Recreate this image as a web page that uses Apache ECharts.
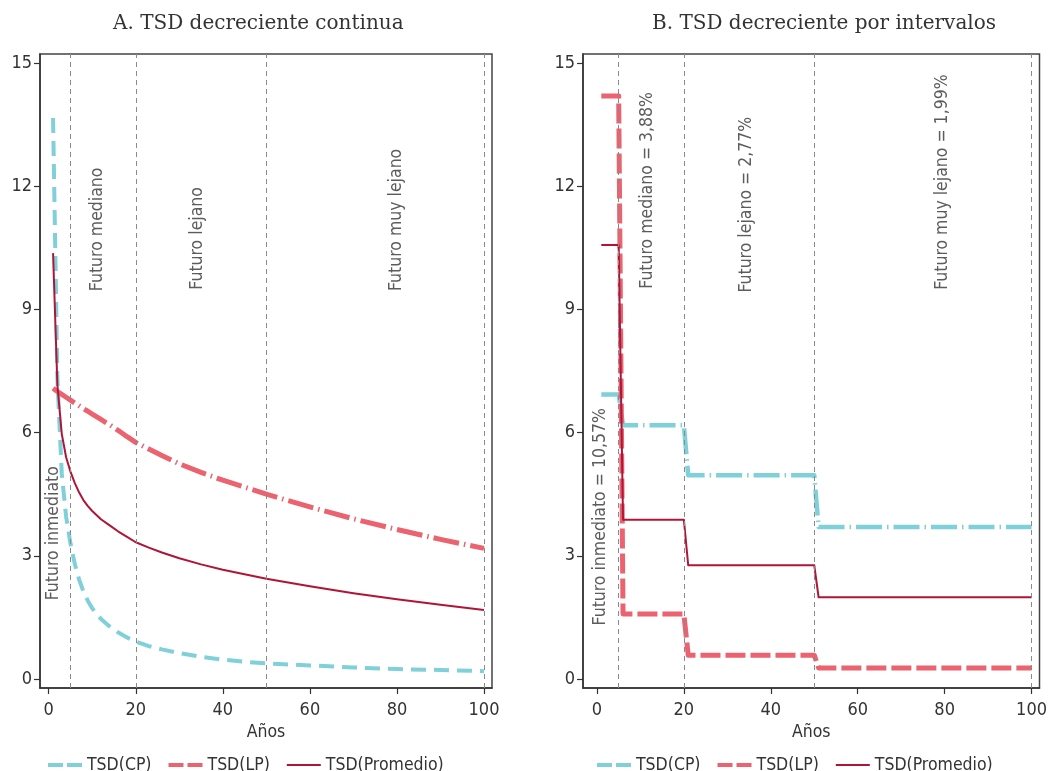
<!DOCTYPE html>
<html>
<head>
<meta charset="utf-8">
<script src="https://cdn.jsdelivr.net/npm/echarts@6/dist/echarts.min.js"></script>
<style>
html,body{margin:0;padding:0;background:#fff;}
#main{width:1050px;height:771px;}
</style>
</head>
<body>
<div id="main"></div>
<script>
// ---------- Data ----------
const titleA = 'A. TSD decreciente continua';
const titleB = 'B. TSD decreciente por intervalos';
const seriesNames = ['TSD(CP)', 'TSD(LP)', 'TSD(Promedio)'];
const xTicks = [0, 20, 40, 60, 80, 100];
const yTicks = [0, 3, 6, 9, 12, 15];
const horizonLines = [5, 20, 50, 100];

// Panel A: continuous declining rates
const yearsA = [1, 2, 3, 4, 5, 6, 7, 8, 9, 10, 12, 14, 16, 18, 20, 23, 26, 30, 35, 40, 45, 50, 60, 70, 80, 90, 100];
const cpA    = [13.66, 7.3, 5.0, 3.95, 3.3, 2.8, 2.42, 2.12, 1.9, 1.72, 1.46, 1.28, 1.13, 1.01, 0.91, 0.8, 0.72, 0.63, 0.54, 0.47, 0.42, 0.38, 0.33, 0.28, 0.24, 0.22, 0.19];
const lpA    = [7.08, 7.0, 6.93, 6.86, 6.79, 6.72, 6.65, 6.58, 6.52, 6.45, 6.32, 6.19, 6.05, 5.9, 5.76, 5.6, 5.44, 5.24, 5.03, 4.84, 4.67, 4.5, 4.19, 3.9, 3.64, 3.4, 3.18];
const promA  = [10.37, 7.15, 5.97, 5.4, 5.05, 4.77, 4.54, 4.35, 4.21, 4.09, 3.89, 3.74, 3.59, 3.46, 3.33, 3.2, 3.08, 2.94, 2.79, 2.66, 2.55, 2.44, 2.26, 2.09, 1.94, 1.81, 1.68];

// Panel B: step-wise rates by horizon
const yearsB = [1, 5, 6, 20, 21, 50, 51, 100];
const cpB    = [6.93, 6.93, 6.18, 6.18, 4.96, 4.96, 3.70, 3.70];
const lpB    = [14.2, 14.2, 1.58, 1.58, 0.58, 0.58, 0.27, 0.27];
const promB  = [10.57, 10.57, 3.88, 3.88, 2.77, 2.77, 1.99, 1.99];

// Annotation labels (data coordinates: year, value)
const labelsA = [
  ['Futuro inmediato', 1.0, 3.55],
  ['Futuro mediano', 11.2, 10.95],
  ['Futuro lejano', 34.2, 10.73],
  ['Futuro muy lejano', 80.0, 11.18]
];
const labelsB = [
  ['Futuro inmediato = 10,57%', 0.7, 3.95],
  ['Futuro mediano = 3,88%', 11.6, 11.9],
  ['Futuro lejano = 2,77%', 34.3, 11.55],
  ['Futuro muy lejano = 1,99%', 79.4, 12.1]
];

// ---------- Styles ----------
const FONT = "'Liberation Sans Narrow', 'DejaVu Sans Condensed', 'Roboto', sans-serif";
const TXT = '#333333';
const C_CP = '#7fd0d8';
const C_LP = '#ea636f';
const C_PR = '#b01538';

function pairs(xs, ys) { return xs.map((x, i) => [x, ys[i]]); }

function xAxisDef(idx, min, max) {
  return {
    type: 'value', gridIndex: idx, min: min, max: max,
    name: 'Años', nameLocation: 'middle', nameGap: 24,
    nameTextStyle: { fontFamily: FONT, fontSize: 17.5, color: TXT },
    axisLine: { show: true, onZero: false, lineStyle: { color: '#333', width: 1.5 } },
    axisTick: { show: true, length: 6, lineStyle: { color: '#333', width: 1.2 }, customValues: xTicks },
    axisLabel: { fontFamily: FONT, fontSize: 18, color: TXT, margin: 13, customValues: xTicks },
    splitLine: { show: false }
  };
}
function yAxisDef(idx) {
  return {
    type: 'value', gridIndex: idx, min: -0.22, max: 15.22,
    axisLine: { show: true, onZero: false, lineStyle: { color: '#333', width: 1.5 } },
    axisTick: { show: true, length: 6, lineStyle: { color: '#333', width: 1.2 }, customValues: yTicks },
    axisLabel: { fontFamily: FONT, fontSize: 18, color: TXT, margin: 8, customValues: yTicks },
    splitLine: { show: false }
  };
}
function vlines() {
  return {
    silent: true, symbol: 'none',
    label: { show: false },
    lineStyle: { color: '#8a8a8a', width: 1, type: [5, 4] },
    data: horizonLines.map(v => ({ xAxis: v }))
  };
}
function lineSeries(name, idx, data, color, width, dash, withMarks) {
  const s = {
    name: name, type: 'line', xAxisIndex: idx, yAxisIndex: idx,
    data: data, symbol: 'none', smooth: false, animation: false,
    lineStyle: { color: color, width: width, type: dash, cap: 'butt', join: 'round' },
    itemStyle: { color: color }, z: 3
  };
  if (withMarks) s.markLine = vlines();
  return s;
}
function labelSeries(idx, list) {
  return {
    type: 'scatter', xAxisIndex: idx, yAxisIndex: idx, symbolSize: 0, silent: true,
    animation: false, z: 4,
    data: list.map(l => ({ name: l[0], value: [l[1], l[2]] })),
    label: {
      show: true, position: 'inside', rotate: 90, formatter: p => p.name,
      fontFamily: FONT, fontSize: 17.5, color: TXT, align: 'center', verticalAlign: 'middle'
    }
  };
}
function legendDef(left) {
  return {
    left: left, top: 751, itemWidth: 34, itemHeight: 10, itemGap: 17,
    textStyle: { fontFamily: FONT, fontSize: 17.5, color: TXT },
    selectedMode: false,
    data: [
      { name: seriesNames[0], icon: 'path://M0,4H15V8H0Z M19,4H34V8H19Z', itemStyle: { color: C_CP } },
      { name: seriesNames[1], icon: 'path://M0,4H15V8H0Z M19,4H34V8H19Z', itemStyle: { color: C_LP } },
      { name: seriesNames[2], icon: 'path://M0,5H34V7H0Z', itemStyle: { color: C_PR } }
    ]
  };
}

const option = {
  backgroundColor: '#fff',
  animation: false,
  title: [
    { text: titleA, left: 108, top: 9, textStyle: { fontFamily: "'DejaVu Serif', serif", fontSize: 20, fontWeight: 'normal', color: '#333' } },
    { text: titleB, left: 647, top: 9, textStyle: { fontFamily: "'DejaVu Serif', serif", fontSize: 20, fontWeight: 'normal', color: '#333' } }
  ],
  legend: [legendDef(43), legendDef(592)],
  grid: [
    { left: 40, width: 452, top: 54, height: 634, show: true, borderColor: '#444', borderWidth: 1.5, backgroundColor: 'transparent' },
    { left: 583, width: 458, top: 54, height: 634, show: true, borderColor: '#444', borderWidth: 1.5, backgroundColor: 'transparent' }
  ],
  xAxis: [xAxisDef(0, -2, 101.84), xAxisDef(1, -3.21, 101.83)],
  yAxis: [yAxisDef(0), yAxisDef(1)],
  series: [
    lineSeries(seriesNames[0], 0, pairs(yearsA, cpA), C_CP, 4, [15, 8], true),
    lineSeries(seriesNames[1], 0, pairs(yearsA, lpA), C_LP, 5, [26, 5, 1.5, 5], false),
    lineSeries(seriesNames[2], 0, pairs(yearsA, promA), C_PR, 2, 'solid', false),
    labelSeries(0, labelsA),
    lineSeries(seriesNames[0], 1, pairs(yearsB, cpB), C_CP, 4.5, [26, 5, 1.5, 5], true),
    lineSeries(seriesNames[1], 1, pairs(yearsB, lpB), C_LP, 5, [20, 5], false),
    lineSeries(seriesNames[2], 1, pairs(yearsB, promB), C_PR, 2, 'solid', false),
    labelSeries(1, labelsB)
  ]
};

const chart = echarts.init(document.getElementById('main'), null, { renderer: 'canvas' });
chart.setOption(option);
</script>
</body>
</html>
